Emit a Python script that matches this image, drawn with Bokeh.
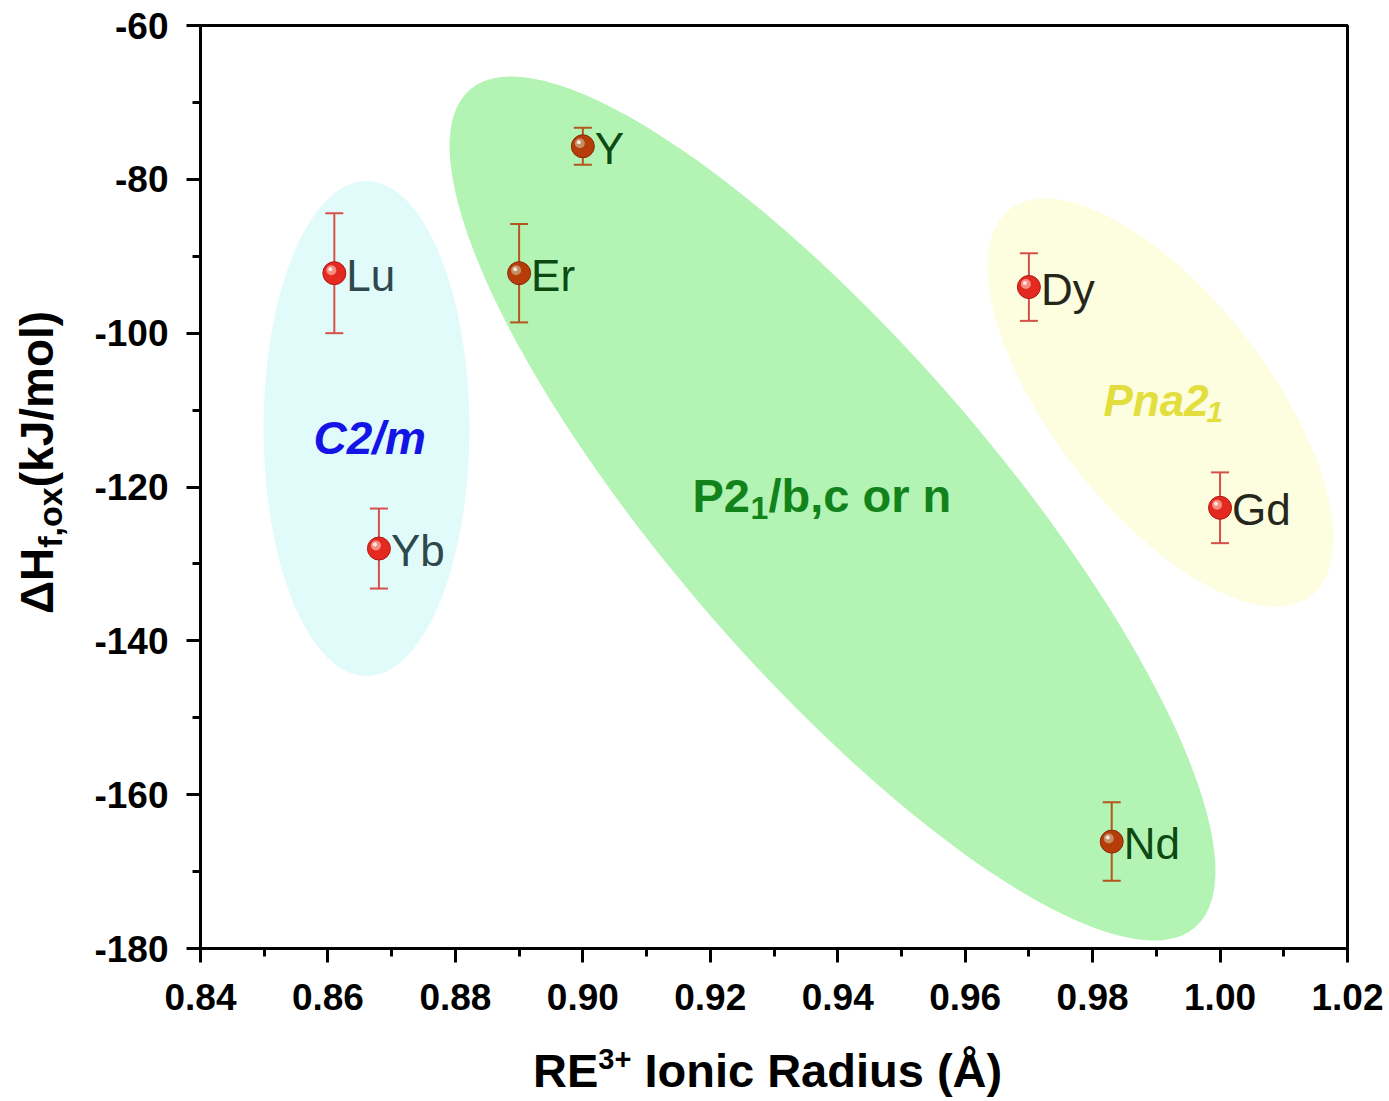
from bokeh.plotting import figure
from bokeh.models import Range1d, FixedTicker, Label, ColumnDataSource, Div
from bokeh.layouts import row, column
from bokeh.core.properties import value
from bokeh.embed import file_html
from bokeh.resources import INLINE
import math

# ---------------- data ----------------
elements = ["Lu", "Yb", "Er", "Y", "Dy", "Gd", "Nd"]
ionic_radius = [0.861, 0.868, 0.890, 0.900, 0.970, 1.000, 0.983]
dH_f_ox = [-92.2, -128.0, -92.2, -75.7, -94.0, -122.7, -166.1]
dH_err = [7.8, 5.2, 6.4, 2.4, 4.4, 4.6, 5.1]

x_ticks = [0.84, 0.86, 0.88, 0.90, 0.92, 0.94, 0.96, 0.98, 1.00, 1.02]
x_tick_labels = ["0.84", "0.86", "0.88", "0.90", "0.92", "0.94", "0.96", "0.98", "1.00", "1.02"]
x_minor = [0.85, 0.87, 0.89, 0.91, 0.93, 0.95, 0.97, 0.99, 1.01]
y_ticks = [-180, -160, -140, -120, -100, -80, -60]
y_tick_labels = ["-180", "-160", "-140", "-120", "-100", "-80", "-60"]
y_minor = [-170, -150, -130, -110, -90, -70]

x_title_html = 'RE<sup style="font-size:29px;vertical-align:18px;line-height:1">3+</sup> Ionic Radius (Å)'
y_title_html = '&Delta;H<sub style="font-size:34px;vertical-align:-9px;line-height:1">f,ox</sub>(kJ/mol)'

# ---------------- styles ----------------
RED, BROWN = "#e42a20", "#b63c0a"
marker_fill = {"Lu": RED, "Yb": RED, "Dy": RED, "Gd": RED, "Er": BROWN, "Y": BROWN, "Nd": BROWN}
marker_edge = {RED: "#b01812", BROWN: "#872a05"}
hi_color = {RED: "#f6a898", BROWN: "#c9a27a"}
err_color = {RED: "#d6504a", BROWN: "#b4561e"}
label_color = {"Lu": "#2e484d", "Yb": "#2e484d", "Er": "#0c4a12", "Y": "#0c4a12",
               "Nd": "#0c4a12", "Dy": "#26261a", "Gd": "#26261a"}

X0, X1, Y0, Y1 = 0.84, 1.02, -180, -60
W, H = 1389, 1101
YDIV_W = 70          # strip on the left holding the y title
XDIV_H = 61          # strip at the bottom holding the x title
LEFT, TOP, FW, FH = 200, 25, 1147, 923   # frame in page pixels
PW, PH = W - YDIV_W, H - XDIV_H


def px_x(px):
    return X0 + (px - LEFT) / FW * (X1 - X0)


def px_y(py):
    return Y1 - (py - TOP) / FH * (Y1 - Y0)


DXP = (X1 - X0) / FW
DYP = (Y1 - Y0) / FH

p = figure(width=PW, height=PH, x_range=Range1d(X0, X1), y_range=Range1d(Y0, Y1),
           output_backend="svg", toolbar_location=None,
           min_border_left=LEFT - YDIV_W, min_border_right=W - LEFT - FW,
           min_border_top=TOP, min_border_bottom=PH - TOP - FH, margin=0)
p.background_fill_color = "white"
p.border_fill_color = "white"
p.grid.visible = False
p.outline_line_color = "black"
p.outline_line_width = 3
p.outline_line_alpha = 1

# ---------------- region ellipses ----------------
p.ellipse(x=[px_x(366)], y=[px_y(428)], width=[206], height=[495], angle=[0.0],
          width_units="screen", height_units="screen",
          fill_color="#e1fbfb", line_color=None)
p.ellipse(x=[px_x(832)], y=[px_y(508)], width=[1108], height=[325],
          angle=[math.radians(-49.1)], width_units="screen", height_units="screen",
          fill_color="#b3f3b3", line_color=None)
p.ellipse(x=[px_x(1160)], y=[px_y(402)], width=[490], height=[215],
          angle=[math.radians(-52)], width_units="screen", height_units="screen",
          fill_color="#fdfddf", line_color=None)

# ---------------- region texts ----------------
def add_text(px, py, txt, size, color, style="bold"):
    p.add_layout(Label(x=px_x(px), y=px_y(py), text=txt, text_font="Liberation Sans",
                       text_font_size=f"{size}px", text_font_style=style,
                       text_color=color, text_align="left", text_baseline="alphabetic"))


add_text(313, 437, "C2/m", 46, "#1414e6", "bold italic")
add_text(692, 495, "P2", 47, "#12821a")
add_text(750, 507, "1", 32, "#12821a")
add_text(768, 495, "/b,c or n", 47, "#12821a")
add_text(1103, 400, "Pna2", 44, "#e2de3e", "bold italic")
add_text(1206, 411, "1", 30, "#e2de3e", "bold italic")

# ---------------- error bars ----------------
cols = [marker_fill[e] for e in elements]
src = ColumnDataSource(dict(
    x=ionic_radius, y=dH_f_ox,
    lo=[v - e for v, e in zip(dH_f_ox, dH_err)],
    hi=[v + e for v, e in zip(dH_f_ox, dH_err)],
    ecol=[err_color[c] for c in cols],
    fill=cols, edge=[marker_edge[c] for c in cols],
    hcol=[hi_color[c] for c in cols],
    hx=[v - 3 * DXP for v in ionic_radius],
    hy=[v + 3 * DYP for v in dH_f_ox],
    wx=[v - 4 * DXP for v in ionic_radius],
    wy=[v + 4 * DYP for v in dH_f_ox],
    name=elements,
    tcol=[label_color[e] for e in elements],
))
p.segment(x0="x", y0="lo", x1="x", y1="hi", line_color="ecol", line_width=2, source=src)
p.scatter(x="x", y="lo", marker="dash", size=18, line_color="ecol", line_width=2, source=src)
p.scatter(x="x", y="hi", marker="dash", size=18, line_color="ecol", line_width=2, source=src)

# ---------------- spheres ----------------
p.scatter(x="x", y="y", size=23, fill_color="fill", line_color="edge", line_width=1, source=src)
p.scatter(x="hx", y="hy", size=10, fill_color="hcol", line_color=None, fill_alpha=0.8, source=src)
p.scatter(x="wx", y="wy", size=4, fill_color="white", line_color=None, fill_alpha=0.8, source=src)

# ---------------- point labels ----------------
p.text(x="x", y="y", text="name", x_offset=12, y_offset=2, text_baseline="middle",
       text_align="left", text_font=value("Liberation Sans"), text_font_size="44px",
       text_color="tcol", source=src)

# ---------------- axes ----------------
for ax, ticks, minor, labels, standoff in (
        (p.xaxis[0], x_ticks, x_minor, x_tick_labels, 21),
        (p.yaxis[0], y_ticks, y_minor, y_tick_labels, 18)):
    ax.ticker = FixedTicker(ticks=ticks, minor_ticks=minor)
    ax.major_label_overrides = {t: l for t, l in zip(ticks, labels)}
    ax.axis_line_width = 3
    ax.axis_line_color = "black"
    ax.major_tick_out = 14
    ax.major_tick_in = 0
    ax.minor_tick_out = 8
    ax.minor_tick_in = 0
    ax.major_tick_line_width = 3
    ax.minor_tick_line_width = 3
    ax.major_tick_line_color = "black"
    ax.minor_tick_line_color = "black"
    ax.major_label_text_font = "Liberation Sans"
    ax.major_label_text_font_style = "bold"
    ax.major_label_text_font_size = "37px"
    ax.major_label_text_color = "black"
    ax.major_label_standoff = standoff

# ---------------- axis titles as HTML text (real sub/superscripts) ----------------
FONT_CSS = "font-family:'Liberation Sans',Arial,sans-serif;font-weight:bold;color:black;line-height:1;white-space:nowrap;"

ydiv = Div(width=YDIV_W, height=H, margin=0,
           text=(f'<div style="position:absolute;left:14px;top:614px;font-size:46px;{FONT_CSS}'
                 f'transform:rotate(-90deg);transform-origin:0 0;">{y_title_html}</div>'))
xdiv = Div(width=PW, height=XDIV_H, margin=0,
           text=(f'<div style="position:absolute;left:{533 - YDIV_W}px;top:5px;font-size:47px;{FONT_CSS}">'
                 f'{x_title_html}</div>'))

layout = row(ydiv, column(p, xdiv, spacing=0), spacing=0)

open("out.html", "w").write(file_html(layout, INLINE))
